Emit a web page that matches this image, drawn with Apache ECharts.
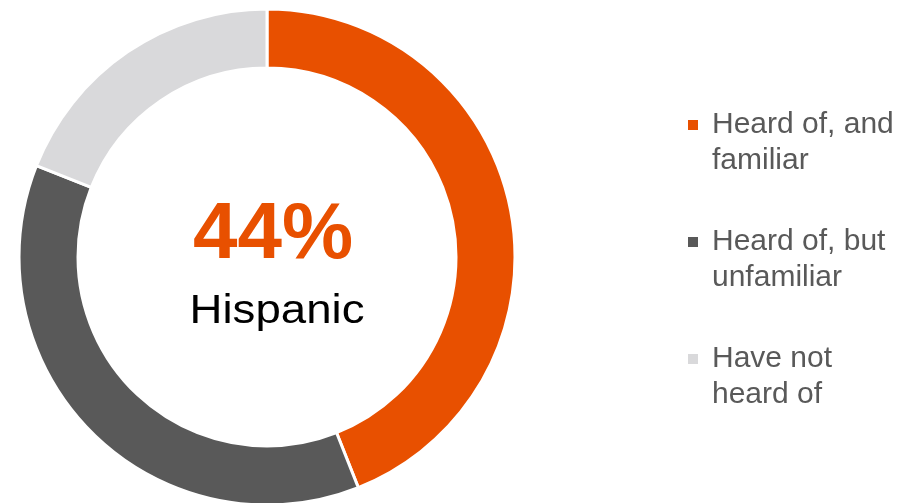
<!DOCTYPE html>
<html>
<head>
<meta charset="utf-8">
<script src="https://cdn.jsdelivr.net/npm/echarts@6/dist/echarts.min.js"></script>
<style>
html,body{margin:0;padding:0;background:#fff;}
#c{width:901px;height:503px;}
</style>
</head>
<body>
<div id="c"></div>
<script>
const categories = ['Heard of, and\nfamiliar', 'Heard of, but\nunfamiliar', 'Have not\nheard of'];
const values = [44, 37, 19];
const colors = ['#E85000', '#595959', '#D9D9DB'];
const centerValue = '44%';
const centerLabel = 'Hispanic';

const chart = echarts.init(document.getElementById('c'), null, {renderer: 'canvas'});
chart.setOption({
  animation: false,
  backgroundColor: '#ffffff',
  color: colors,
  legend: {
    orient: 'vertical',
    left: 688,
    top: 107,
    padding: 0,
    itemWidth: 19,
    itemHeight: 72,
    itemGap: 45,
    icon: 'path://M0,0L0.01,0L0,0.01Z M0,13h10v10h-10z M19,72L18.99,72L19,71.99Z',
    itemStyle: {borderWidth: 0},
    data: categories,
    textStyle: {
      fontFamily: 'Liberation Sans, Arial, sans-serif',
      fontSize: 30,
      color: '#595959',
      lineHeight: 36
    }
  },
  graphic: [
    {
      type: 'text',
      x: 273,
      y: 236,
      style: {
        text: centerValue,
        font: 'bold 80px "Liberation Sans", Arial, sans-serif',
        fill: '#E85000',
        textAlign: 'center',
        textVerticalAlign: 'middle'
      }
    },
    {
      type: 'text',
      x: 277,
      y: 312,
      scaleX: 1.14,
      style: {
        text: centerLabel,
        font: '40px "Liberation Sans", Arial, sans-serif',
        fill: '#000000',
        textAlign: 'center',
        textVerticalAlign: 'middle'
      }
    }
  ],
  series: [{
    type: 'pie',
    center: [267, 257],
    radius: [189, 248],
    startAngle: 90,
    clockwise: true,
    avoidLabelOverlap: false,
    label: {show: false},
    labelLine: {show: false},
    emphasis: {disabled: true},
    itemStyle: {borderColor: '#ffffff', borderWidth: 3},
    data: categories.map((n, i) => ({name: n, value: values[i]}))
  }]
});
</script>
</body>
</html>
